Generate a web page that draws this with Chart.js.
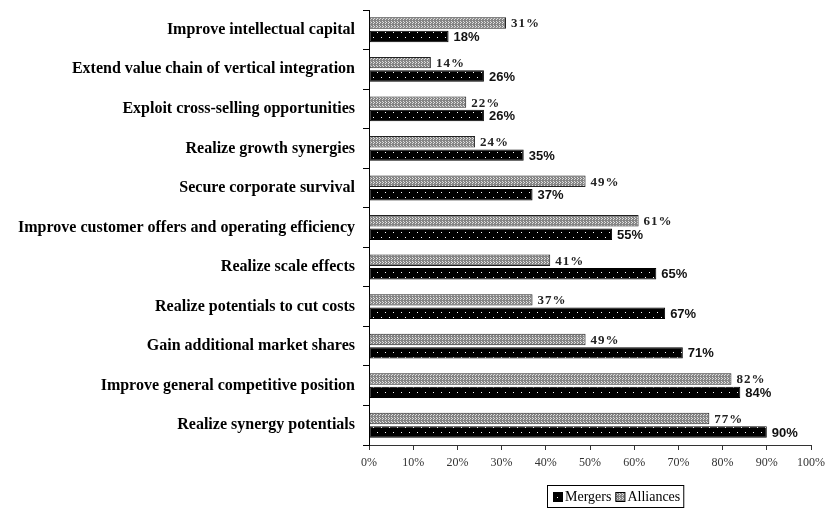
<!DOCTYPE html>
<html>
<head>
<meta charset="utf-8">
<script src="https://cdn.jsdelivr.net/npm/chart.js@4"></script>
<style>
  html, body { margin: 0; padding: 0; background: #fff; }
  #wrap { width: 831px; height: 516px; }
</style>
</head>
<body>
<div id="wrap"><canvas id="motivesChart" width="831" height="516"></canvas></div>
<script>
// Motives for mergers vs. alliances (share of respondents)
const motives = [
  'Improve intellectual capital',
  'Extend value chain of vertical integration',
  'Exploit cross-selling opportunities',
  'Realize growth synergies',
  'Secure corporate survival',
  'Improve customer offers and operating efficiency',
  'Realize scale effects',
  'Realize potentials to cut costs',
  'Gain additional market shares',
  'Improve general competitive position',
  'Realize synergy potentials'
];
const alliances = [31, 14, 22, 24, 49, 61, 41, 37, 49, 82, 77];
const mergers = [18, 26, 26, 35, 37, 55, 65, 67, 71, 84, 90];
const xTicks = [0, 10, 20, 30, 40, 50, 60, 70, 80, 90, 100];

// small tiles used as bar fills
function makePattern(bg, fg, dots, w, h) {
  const c = document.createElement('canvas');
  c.width = w; c.height = h;
  const g = c.getContext('2d');
  g.fillStyle = bg;
  g.fillRect(0, 0, w, h);
  g.fillStyle = fg;
  dots.forEach(d => g.fillRect(d[0], d[1], 1, 1));
  return g.createPattern(c, 'repeat');
}
const ctx = document.getElementById('motivesChart').getContext('2d');
const mergerFill = makePattern('#000', '#fff', [[1, 2], [5, 7]], 8, 10);
const allianceFill = makePattern('#858585', '#e0e0e0', [[1, 1], [2, 2], [1, 3], [4, 1], [5, 2], [4, 3]], 6, 4);

// value labels at the end of each bar
const valueLabels = {
  id: 'valueLabels',
  afterDatasetsDraw(chart) {
    const c = chart.ctx;
    c.save();
    c.textBaseline = 'middle';
    c.textAlign = 'left';
    chart.data.datasets.forEach((ds, i) => {
      const meta = chart.getDatasetMeta(i);
      meta.data.forEach((bar, j) => {
        const txt = ds.data[j] + '%';
        if (ds.label === 'Alliances') {
          c.font = 'bold 13px "Liberation Serif"';
          c.fillStyle = '#222';
          c.letterSpacing = '1px';
        } else {
          c.font = 'bold 13px "Liberation Sans"';
          c.fillStyle = '#111';
          c.letterSpacing = '0px';
        }
        c.fillText(txt, bar.x + 5, bar.y + 1);
      });
    });
    c.restore();
  }
};

// boxed legend below the axis
const boxLegend = {
  id: 'boxLegend',
  afterDraw(chart) {
    const c = chart.ctx;
    const items = [
      { label: 'Mergers', fill: mergerFill },
      { label: 'Alliances', fill: allianceFill }
    ];
    c.save();
    c.font = '14px "Liberation Serif"';
    c.textBaseline = 'middle';
    let w = 5;
    items.forEach(it => { w += 12 + c.measureText(it.label).width + 4; });
    const x0 = 547, y0 = 485, h = 22;
    c.strokeStyle = '#000';
    c.lineWidth = 1;
    c.strokeRect(x0 + 0.5, y0 + 0.5, w, h);
    let x = x0 + 6;
    items.forEach(it => {
      c.fillStyle = it.fill;
      c.fillRect(x, y0 + 7, 9, 9);
      c.strokeRect(x + 0.5, y0 + 7.5, 9, 9);
      c.fillStyle = '#000';
      c.fillText(it.label, x + 12, y0 + h / 2 + 1);
      x += 12 + c.measureText(it.label).width + 4;
    });
    c.restore();
  }
};

const chart = new Chart(ctx, {
  type: 'bar',
  data: {
    labels: motives,
    datasets: [
      {
        label: 'Alliances',
        data: alliances,
        backgroundColor: allianceFill,
        borderColor: '#222',
        borderWidth: 1,
        borderSkipped: false,
        barPercentage: 0.85,
        categoryPercentage: 0.68
      },
      {
        label: 'Mergers',
        data: mergers,
        backgroundColor: mergerFill,
        borderColor: '#000',
        borderWidth: 1,
        borderSkipped: false,
        barPercentage: 0.85,
        categoryPercentage: 0.68
      }
    ]
  },
  options: {
    indexAxis: 'y',
    responsive: false,
    animation: false,
    layout: { padding: { top: 10, right: 18, bottom: 0, left: 0 } },
    plugins: {
      legend: { display: false },
      tooltip: { enabled: false }
    },
    scales: {
      x: {
        min: 0,
        max: 100,
        afterBuildTicks(scale) {
          scale.ticks = xTicks.map(v => ({ value: v }));
        },
        afterFit(scale) { scale.height = 71; },
        grid: {
          drawOnChartArea: false,
          drawTicks: true,
          tickLength: 5,
          color: '#333'
        },
        border: { display: true, color: '#333' },
        ticks: {
          color: '#333',
          padding: 6,
          maxRotation: 0,
          font: { family: '"Liberation Serif"', size: 12 },
          callback: v => v + '%'
        }
      },
      y: {
        afterFit(scale) {
          scale.width = 369;
          // labels sit mid-category, so no extra room above/below is needed
          scale.paddingTop = 0;
          scale.paddingBottom = 0;
        },
        grid: {
          drawOnChartArea: false,
          drawTicks: true,
          tickLength: 6,
          color: '#000'
        },
        border: { display: true, color: '#000' },
        ticks: {
          color: '#000',
          padding: 8,
          autoSkip: false,
          font: { family: '"Liberation Serif"', size: 16, weight: 'bold' }
        }
      }
    }
  },
  plugins: [valueLabels, boxLegend]
});
</script>
</body>
</html>
